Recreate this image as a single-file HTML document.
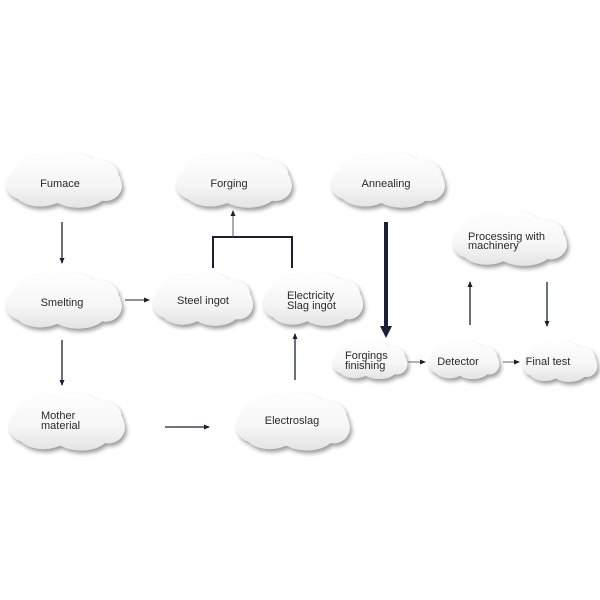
<!DOCTYPE html>
<html><head><meta charset="utf-8"><style>
html,body{margin:0;padding:0;background:#fff;width:600px;height:600px;overflow:hidden}
svg{display:block}
text{font-family:"Liberation Sans",Arial,sans-serif;font-size:11px;fill:#2a2a2a}
</style></head><body>
<svg id="s" width="600" height="600" viewBox="0 0 600 600" xmlns="http://www.w3.org/2000/svg">
<defs id="defs">
<filter id="sh" x="-20%" y="-20%" width="150%" height="160%">
<feGaussianBlur in="SourceAlpha" stdDeviation="2.2"/>
<feOffset dx="2" dy="3" result="b"/>
<feComponentTransfer><feFuncA type="linear" slope="0.4"/></feComponentTransfer>
<feMerge><feMergeNode/><feMergeNode in="SourceGraphic"/></feMerge>
</filter>
<marker id="a" markerWidth="6" markerHeight="6" refX="5" refY="3" orient="auto" markerUnits="userSpaceOnUse"><path d="M0,0.5 L6,3 L0,5.5z" fill="#1a1f3a"/></marker>
</defs>
<g id="clouds"></g>
<g stroke="#1a1f3a" fill="none">
<line x1="62" y1="222" x2="62" y2="263" stroke-width="1.3" marker-end="url(#a)"/>
<line x1="62" y1="340" x2="62" y2="385" stroke-width="1.3" marker-end="url(#a)"/>
<line x1="125" y1="300" x2="149" y2="300" stroke-width="1" marker-end="url(#a)"/>
<line x1="165" y1="427" x2="209" y2="427" stroke-width="1.3" marker-end="url(#a)"/>
<line x1="295" y1="380" x2="295" y2="334" stroke-width="1.3" marker-end="url(#a)"/>
<polyline points="213,268 213,237 292,237 292,268" stroke-width="2"/>
<line x1="233" y1="237" x2="233" y2="211" stroke="#555" stroke-width="1" marker-end="url(#a)"/>
<line x1="386" y1="222" x2="386" y2="328" stroke-width="4"/>
<path d="M380,326 L392,326 L386,338z" fill="#1a1f3a" stroke="none"/>
<line x1="408" y1="362" x2="425" y2="362" stroke="#666" stroke-width="1" marker-end="url(#a)"/>
<line x1="503" y1="362" x2="519" y2="362" stroke="#666" stroke-width="1" marker-end="url(#a)"/>
<line x1="470" y1="325" x2="470" y2="282" stroke-width="1.3" marker-end="url(#a)"/>
<line x1="547" y1="282" x2="547" y2="326" stroke-width="1.3" marker-end="url(#a)"/>
</g>
<g id="labels">
<text x="60" y="187" text-anchor="middle">Fumace</text>
<text x="229" y="187" text-anchor="middle">Forging</text>
<text x="386" y="187" text-anchor="middle">Annealing</text>
<text x="62" y="306" text-anchor="middle">Smelting</text>
<text x="203" y="304" text-anchor="middle">Steel ingot</text>
<text x="287" y="299">Electricity</text>
<text x="287" y="309">Slag ingot</text>
<text x="41" y="419">Mother</text>
<text x="41" y="429">material</text>
<text x="292" y="424" text-anchor="middle">Electroslag</text>
<text x="468" y="240">Processing with</text>
<text x="468" y="249">machinery</text>
<text x="345" y="359">Forgings</text>
<text x="345" y="369">finishing</text>
<text x="458" y="365" text-anchor="middle">Detector</text>
<text x="548" y="365" text-anchor="middle">Final test</text>
</g>
</svg>
<script>
var C=[[5,150,118,62],[175,150,118,62],[330,150,116,62],[5,270,118,63],[152,270,102,60],[262,270,102,60],[8,390,118,65],[235,390,116,65],[452,210,116,60],[332,340,76,42],[428,340,72,42],[522,340,76,45]];
var g=document.getElementById('clouds'),defs=document.getElementById('defs'),ns='http://www.w3.org/2000/svg';
C.forEach(function(c,i){
 var x=c[0],y=c[1],w=c[2],h=c[3];
 var lg=document.createElementNS(ns,'linearGradient');lg.setAttribute('id','g'+i);lg.setAttribute('gradientUnits','userSpaceOnUse');
 lg.setAttribute('x1',0);lg.setAttribute('y1',y);lg.setAttribute('x2',0);lg.setAttribute('y2',y+h);
 [['0','#ffffff'],['0.55','#f6f6f6'],['1','#e0e0e0']].forEach(function(s){var st=document.createElementNS(ns,'stop');st.setAttribute('offset',s[0]);st.setAttribute('stop-color',s[1]);lg.appendChild(st);});
 defs.appendChild(lg);
 var grp=document.createElementNS(ns,'g');grp.setAttribute('filter','url(#sh)');grp.setAttribute('fill','url(#g'+i+')');
 function e(cx,cy,rx,ry){var el=document.createElementNS(ns,'ellipse');el.setAttribute('cx',cx);el.setAttribute('cy',cy);el.setAttribute('rx',rx);el.setAttribute('ry',ry);grp.appendChild(el);}
 var cx=x+w/2,cy=y+h/2;
 e(cx,cy,w*0.48,h*0.36);
 e(x+w*0.3,y+h*0.36,w*0.22,h*0.28);
 e(x+w*0.55,y+h*0.32,w*0.24,h*0.28);
 e(x+w*0.76,y+h*0.4,w*0.2,h*0.25);
 e(x+w*0.15,y+h*0.55,w*0.14,h*0.25);
 e(x+w*0.85,y+h*0.58,w*0.14,h*0.24);
 e(x+w*0.3,y+h*0.66,w*0.22,h*0.25);
 e(x+w*0.62,y+h*0.68,w*0.24,h*0.25);
 g.appendChild(grp);
});
</script>
</body></html>
